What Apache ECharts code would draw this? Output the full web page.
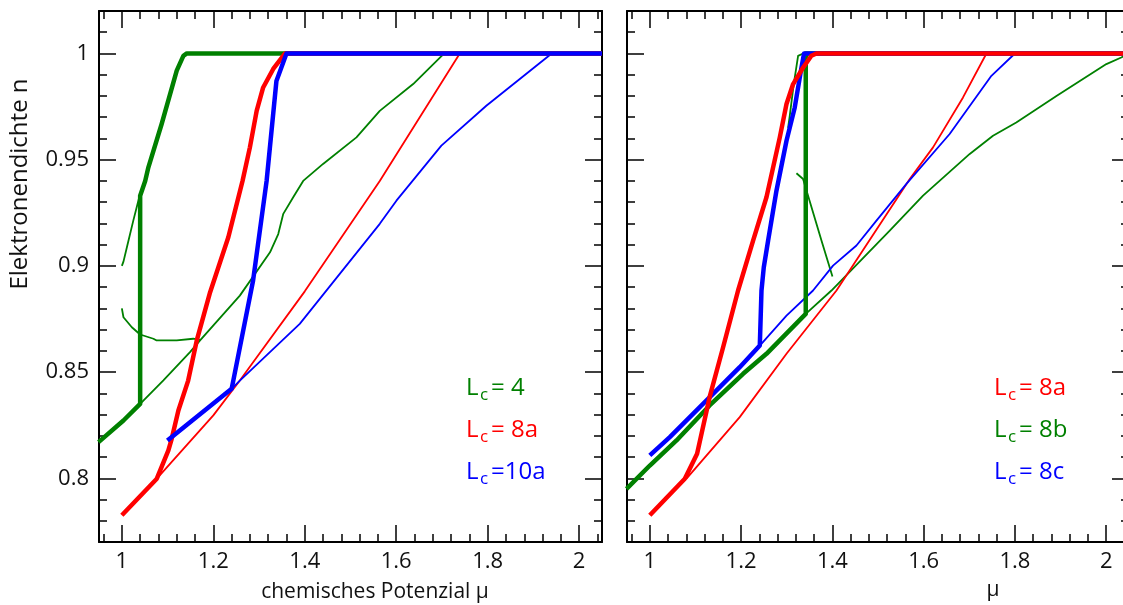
<!DOCTYPE html>
<html>
<head>
<meta charset="utf-8">
<script src="https://cdn.jsdelivr.net/npm/echarts@6/dist/echarts.min.js"></script>
<style>
html,body{margin:0;padding:0;background:#fff;overflow:hidden;width:1123px;height:605px;}
#chart{width:1132px;height:605px;}
</style>
</head>
<body>
<div id="chart"></div>
<script>
// ---- tick values / labels ----
const xMajor = [1, 1.2, 1.4, 1.6, 1.8, 2];
const xMinor = [0.96, 1.04, 1.08, 1.12, 1.16, 1.24, 1.28, 1.32, 1.36, 1.44, 1.48, 1.52, 1.56, 1.64, 1.68, 1.72, 1.76, 1.84, 1.88, 1.92, 1.96, 2.04];
const yMajor = [0.8, 0.85, 0.9, 0.95, 1];
const yMinor = [0.78, 0.79, 0.81, 0.82, 0.83, 0.84, 0.86, 0.87, 0.88, 0.89, 0.91, 0.92, 0.93, 0.94, 0.96, 0.97, 0.98, 0.99, 1.01];
const xRange = [0.95, 2.05];
const yRange = [0.77, 1.02];

// ---- left panel series ----
const left_Lc4_thick = [[0.949,0.817],[1.0035,0.8272],[1.04,0.835],[1.04,0.933],[1.051,0.940],[1.058,0.9464],[1.087,0.9668],[1.12,0.9919],[1.1345,0.9989],[1.142,1.0],[2.05,1.0]];
const left_Lc4_thinUpper = [[1.0,0.900],[1.0035,0.902],[1.011,0.9088],[1.025,0.9213],[1.038,0.9323]];
const left_Lc4_thinLower = [[1.0,0.880],[1.0035,0.8758],[1.0218,0.8711],[1.04,0.8677],[1.069,0.8657],[1.076,0.8649],[1.12,0.8649],[1.156,0.8657],[1.171,0.8652]];
const left_Lc4_thin = [[1.04,0.835],[1.0908,0.8461],[1.149,0.8594],[1.171,0.8649],[1.258,0.886],[1.324,0.9064],[1.342,0.915],[1.353,0.9245],[1.3747,0.9323],[1.3965,0.940],[1.44,0.948],[1.513,0.9605],[1.564,0.973],[1.637,0.9856],[1.705,1.0]];
const left_Lc8a_thick = [[1.0,0.7826],[1.0764,0.7998],[1.1017,0.8131],[1.109,0.8186],[1.1236,0.8319],[1.145,0.846],[1.1638,0.8649],[1.193,0.8876],[1.2328,0.9135],[1.264,0.9401],[1.28,0.9558],[1.2948,0.973],[1.309,0.984],[1.331,0.9927],[1.357,1.0],[2.05,1.0]];
const left_Lc8a_thin = [[1.0764,0.7998],[1.2,0.8296],[1.258,0.846],[1.4,0.888],[1.564,0.940],[1.739,1.0]];
const left_Lc10a_thick = [[1.0996,0.8178],[1.24,0.8421],[1.2437,0.846],[1.287,0.8931],[1.3166,0.9401],[1.338,0.987],[1.36,1.0],[2.05,1.0]];
const left_Lc10a_thin = [[1.24,0.8421],[1.258,0.846],[1.389,0.8727],[1.564,0.9198],[1.6004,0.9307],[1.6987,0.9566],[1.797,0.9754],[1.94,1.0]];

// ---- right panel series ----
const right_Lc8a_thick = [[1.0,0.7826],[1.0767,0.7998],[1.1036,0.8116],[1.131,0.8382],[1.1606,0.8617],[1.1934,0.8884],[1.2263,0.9119],[1.2556,0.9323],[1.2848,0.9605],[1.2995,0.9762],[1.314,0.9856],[1.336,0.9934],[1.354,0.9989],[1.365,1.0],[2.05,1.0]];
const right_Lc8a_thin = [[1.0804,0.7998],[1.197,0.8288],[1.2995,0.8586],[1.409,0.8884],[1.5696,0.9409],[1.6206,0.9558],[1.6863,0.9793],[1.7376,1.0]];
const right_Lc8b_thick = [[0.949,0.795],[1.0,0.806],[1.0585,0.8178],[1.131,0.8343],[1.2044,0.8492],[1.2556,0.8586],[1.3417,0.8774],[1.3417,1.0],[2.05,1.0]];
const right_Lc8b_thin = [[1.3417,0.8774],[1.398,0.8884],[1.5257,0.9166],[1.5987,0.9331],[1.701,0.9527],[1.752,0.9613],[1.803,0.9675],[1.891,0.980],[2.0004,0.995],[2.033,0.9981],[2.05,1.0]];
const right_Lc8b_thinUpper = [[1.303,0.965],[1.3067,0.9707],[1.315,0.985],[1.3249,0.9989],[1.336,1.0]];
const right_Lc8b_thinShort = [[1.3213,0.9436],[1.3358,0.9409],[1.3761,0.9119],[1.4002,0.895]];
const right_Lc8c_thick = [[1.0,0.8108],[1.0438,0.8194],[1.1314,0.8382],[1.197,0.8523],[1.241,0.8625],[1.2447,0.8884],[1.2497,0.8993],[1.2592,0.9119],[1.2775,0.9354],[1.2995,0.9589],[1.3176,0.9746],[1.3323,0.9934],[1.338,1.0],[2.05,1.0]];
const right_Lc8c_thin = [[1.241,0.8625],[1.2995,0.8766],[1.3577,0.8884],[1.4015,0.9001],[1.4528,0.9096],[1.4966,0.9213],[1.5623,0.9386],[1.657,0.9621],[1.7485,0.9895],[1.80,1.0]];

// ---- text ----
const yTitle = 'Elektronendichte n';
const xTitleLeft = 'chemisches Potenzial μ';
const xTitleRight = 'μ';
const legendLeftValues = ['= 4', '= 8a', '=10a'];
const legendRightValues = ['= 8a', '= 8b', '= 8c'];

const GREEN = '#008000', RED = '#ff0000', BLUE = '#0000ff';
const legendLeftColors = [GREEN, RED, BLUE];
const legendRightColors = [RED, GREEN, BLUE];

const FONT = '"Open Sans", "Noto Sans", sans-serif';
const THICK = 4.5, THIN = 1.8;

const grids = [
  {left: 99, top: 11, width: 503, height: 531, outerBoundsMode: 'none', containLabel: false},
  {left: 627, top: 11, width: 502, height: 531, outerBoundsMode: 'none', containLabel: false}
];

function fmt(v){ return String(Math.round(v*100)/100); }

const xAxes = [], yAxes = [];
grids.forEach((g, gi) => {
  const base = {gridIndex: gi, type: 'value', min: xRange[0], max: xRange[1], splitLine: {show: false}};
  xAxes.push(Object.assign({}, base, {position: 'bottom',
    axisLine: {show: true, onZero: false, lineStyle: {color: '#000', width: 2}},
    axisTick: {show: true, inside: true, length: 17, customValues: xMajor, lineStyle: {color: '#000', width: 1.5}},
    axisLabel: {show: true, customValues: xMajor, formatter: fmt, margin: 9, fontSize: 22, color: '#111', fontFamily: FONT}}));
  xAxes.push(Object.assign({}, base, {position: 'bottom',
    axisLine: {show: false, onZero: false},
    axisTick: {show: true, inside: true, length: 8, customValues: xMinor, lineStyle: {color: '#000', width: 1.5}},
    axisLabel: {show: false}}));
  xAxes.push(Object.assign({}, base, {position: 'top',
    axisLine: {show: true, onZero: false, lineStyle: {color: '#000', width: 2}},
    axisTick: {show: true, inside: true, length: 17, customValues: xMajor, lineStyle: {color: '#000', width: 1.5}},
    axisLabel: {show: false}}));
  xAxes.push(Object.assign({}, base, {position: 'top',
    axisLine: {show: false, onZero: false},
    axisTick: {show: true, inside: true, length: 8, customValues: xMinor, lineStyle: {color: '#000', width: 1.5}},
    axisLabel: {show: false}}));

  const ybase = {gridIndex: gi, type: 'value', min: yRange[0], max: yRange[1], splitLine: {show: false}};
  yAxes.push(Object.assign({}, ybase, {position: 'left',
    axisLine: {show: true, onZero: false, lineStyle: {color: '#000', width: 2}},
    axisTick: {show: true, inside: true, length: 17, customValues: yMajor, lineStyle: {color: '#000', width: 1.5}},
    axisLabel: {show: gi === 0, customValues: yMajor, formatter: fmt, margin: 10, fontSize: 22, color: '#111', fontFamily: FONT}}));
  yAxes.push(Object.assign({}, ybase, {position: 'left',
    axisLine: {show: false, onZero: false},
    axisTick: {show: true, inside: true, length: 8, customValues: yMinor, lineStyle: {color: '#000', width: 1.5}},
    axisLabel: {show: false}}));
  yAxes.push(Object.assign({}, ybase, {position: 'right',
    axisLine: {show: true, onZero: false, lineStyle: {color: '#000', width: 2}},
    axisTick: {show: true, inside: true, length: 17, customValues: yMajor, lineStyle: {color: '#000', width: 1.5}},
    axisLabel: {show: false}}));
  yAxes.push(Object.assign({}, ybase, {position: 'right',
    axisLine: {show: false, onZero: false},
    axisTick: {show: true, inside: true, length: 8, customValues: yMinor, lineStyle: {color: '#000', width: 1.5}},
    axisLabel: {show: false}}));
});

function line(data, gi, color, width, z){
  return {type: 'line', data: data, xAxisIndex: gi*4, yAxisIndex: gi*4,
    showSymbol: false, symbol: 'none', animation: false, z: z, silent: true,
    lineStyle: {color: color, width: width, cap: 'butt', join: 'round'}};
}

const series = [
  // left: thin lines first
  line(left_Lc4_thinUpper, 0, GREEN, THIN, 2),
  line(left_Lc4_thinLower, 0, GREEN, THIN, 2),
  line(left_Lc4_thin, 0, GREEN, THIN, 2),
  line(left_Lc8a_thin, 0, RED, THIN, 2),
  line(left_Lc10a_thin, 0, BLUE, THIN, 2),
  line(left_Lc4_thick, 0, GREEN, THICK, 3),
  line(left_Lc8a_thick, 0, RED, THICK, 4),
  line(left_Lc10a_thick, 0, BLUE, THICK, 5),
  // right
  line(right_Lc8b_thin, 1, GREEN, THIN, 2),
  line(right_Lc8b_thinUpper, 1, GREEN, THIN, 2),
  line(right_Lc8b_thinShort, 1, GREEN, THIN, 2),
  line(right_Lc8a_thin, 1, RED, THIN, 2),
  line(right_Lc8c_thin, 1, BLUE, THIN, 2),
  line(right_Lc8b_thick, 1, GREEN, THICK, 3),
  line(right_Lc8c_thick, 1, BLUE, THICK, 4),
  line(right_Lc8a_thick, 1, RED, THICK, 5)
];

// legend-like annotations (L with subscript c)
const rowBaselines = [376, 418, 460];
function legendGraphics(xL, values, colors){
  const out = [];
  values.forEach((v, i) => {
    const yb = rowBaselines[i];
    out.push({type: 'text', z: 100, style: {text: 'L', x: xL, y: yb, fill: colors[i], font: '24px ' + FONT, align: 'left', verticalAlign: 'alphabetic'}});
    out.push({type: 'text', z: 100, style: {text: 'c', x: xL + 14, y: yb + 11, fill: colors[i], font: '17px ' + FONT, align: 'left', verticalAlign: 'alphabetic'}});
    out.push({type: 'text', z: 100, style: {text: v, x: xL + 25, y: yb, fill: colors[i], font: '24px ' + FONT, align: 'left', verticalAlign: 'alphabetic'}});
  });
  return out;
}

const graphic = [
  {type: 'text', x: 20, y: 184, rotation: Math.PI/2, z: 100,
   style: {text: yTitle, x: 0, y: 0, fill: '#111', font: '24px ' + FONT, align: 'center', verticalAlign: 'middle'}},
  {type: 'text', z: 100, style: {text: xTitleLeft, x: 375, y: 592, fill: '#111', font: '21px ' + FONT, align: 'center', verticalAlign: 'middle'}},
  {type: 'text', z: 100, style: {text: xTitleRight, x: 993, y: 590, fill: '#111', font: '21px ' + FONT, align: 'center', verticalAlign: 'middle'}}
].concat(legendGraphics(466, legendLeftValues, legendLeftColors))
 .concat(legendGraphics(994, legendRightValues, legendRightColors));

const chart = echarts.init(document.getElementById('chart'), null, {renderer: 'canvas'});
chart.setOption({
  animation: false,
  backgroundColor: '#fff',
  grid: grids,
  xAxis: xAxes,
  yAxis: yAxes,
  series: series,
  graphic: graphic
});
</script>
</body>
</html>
